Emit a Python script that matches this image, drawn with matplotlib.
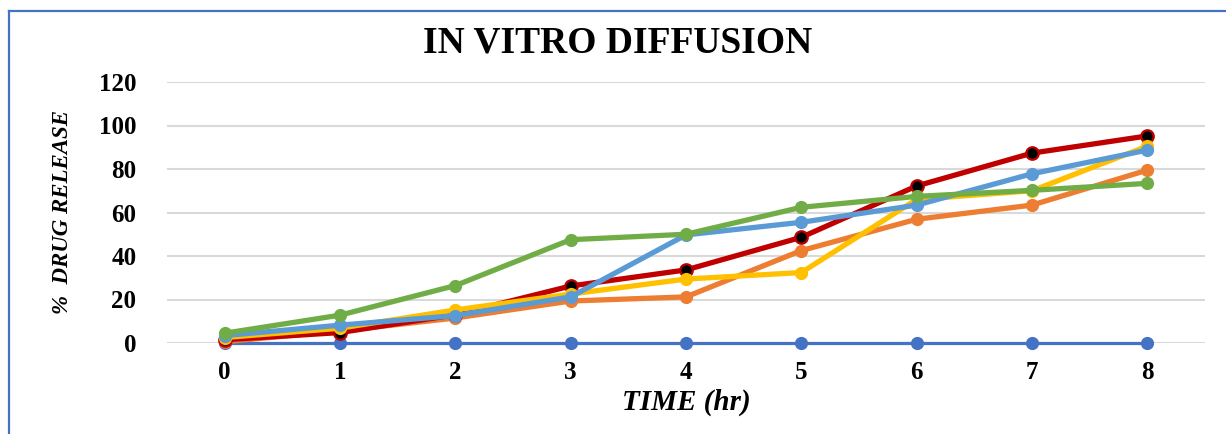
import matplotlib
matplotlib.use("Agg")
import matplotlib.pyplot as plt
from matplotlib.lines import Line2D

# ---- data ----
time_hr = [0, 1, 2, 3, 4, 5, 6, 7, 8]
s_base   = [0, 0, 0, 0, 0, 0, 0, 0, 0]
s_orange = [0.6, 5.5, 11.5, 19.3, 21.2, 42.5, 56.9, 63.4, 79.5]
s_red    = [1.5, 4.8, 13.0, 26.2, 33.6, 48.6, 72.2, 87.3, 95.2]
s_yellow = [2.5, 6.8, 15.2, 22.5, 29.4, 32.4, 66.0, 70.0, 90.5]
s_lblue  = [3.4, 8.2, 12.6, 21.2, 49.7, 55.5, 63.4, 77.8, 88.7]
s_green  = [4.5, 12.8, 26.4, 47.5, 50.0, 62.4, 67.4, 70.2, 73.4]
y_ticks = [0, 20, 40, 60, 80, 100, 120]

title = "IN VITRO DIFFUSION"
xlabel = "TIME (hr)"
ylabel = "%  DRUG RELEASE"

W, H = 1226, 434
fig = plt.figure(figsize=(W / 100, H / 100), dpi=100)
fig.patch.set_facecolor("white")

# figure border (blue; only left and top edges visible)
bx, by = 8.5 / W, 1 - 11 / H
fig.add_artist(Line2D([bx, bx], [-0.05, by], transform=fig.transFigure,
                      color="#4472C4", linewidth=1.6, solid_capstyle="projecting"))
fig.add_artist(Line2D([bx, 1.05], [by, by], transform=fig.transFigure,
                      color="#4472C4", linewidth=1.6, solid_capstyle="projecting"))

left, right = 167 / W, 1205 / W
bottom, top = (H - 343) / H, (H - 82) / H
ax = fig.add_axes([left, bottom, right - left, top - bottom])
ax.set_xlim(-0.5, 8.5)
ax.set_ylim(0, 120)
for sp in ax.spines.values():
    sp.set_visible(False)
ax.set_yticks(y_ticks)
ax.set_xticks(time_hr)
ax.yaxis.grid(True, color="#D9D9D9", linewidth=1.5)
ax.set_axisbelow(True)
ax.tick_params(length=0)
ax.tick_params(axis="y", pad=22)
ax.tick_params(axis="x", pad=13)
fp = matplotlib.font_manager.FontProperties(family="Liberation Serif", weight="bold", size=18)
for lab in ax.get_xticklabels() + ax.get_yticklabels():
    lab.set_fontproperties(fp)

lw, ms = 3.8, 9.5
ax.plot(time_hr, s_base, color="#4472C4", linewidth=2.3, marker="o",
        markersize=ms, markeredgewidth=0, clip_on=False, zorder=3)
ax.plot(time_hr, s_orange, color="#ED7D31", linewidth=lw, marker="o",
        markersize=ms, markeredgewidth=0, clip_on=False, zorder=4)
ax.plot(time_hr, s_red, color="#C00000", linewidth=lw, marker="o",
        markersize=ms - 0.5, markerfacecolor="black", markeredgecolor="#C00000",
        markeredgewidth=1.6, clip_on=False, zorder=5)
ax.plot(time_hr, s_yellow, color="#FFC000", linewidth=lw, marker="o",
        markersize=ms, markeredgewidth=0, clip_on=False, zorder=6)
ax.plot(time_hr, s_lblue, color="#5B9BD5", linewidth=lw, marker="o",
        markersize=ms, markeredgewidth=0, clip_on=False, zorder=7)
ax.plot(time_hr, s_green, color="#70AD47", linewidth=lw, marker="o",
        markersize=ms, markeredgewidth=0, clip_on=False, zorder=8)

fig.text(618 / W, 1 - 43 / H, title, ha="center", va="center",
         family="Liberation Serif", weight="bold", size=27)
fig.text(686 / W, 1 - 402 / H, xlabel, ha="center", va="center",
         family="Liberation Serif", weight="bold", style="italic", size=21)
fig.text(63 / W, 1 - 212 / H, ylabel, ha="center", va="center", rotation=90,
         family="Liberation Serif", weight="bold", style="italic", size=16.5)

fig.savefig("out.png", dpi=100, facecolor="white")
